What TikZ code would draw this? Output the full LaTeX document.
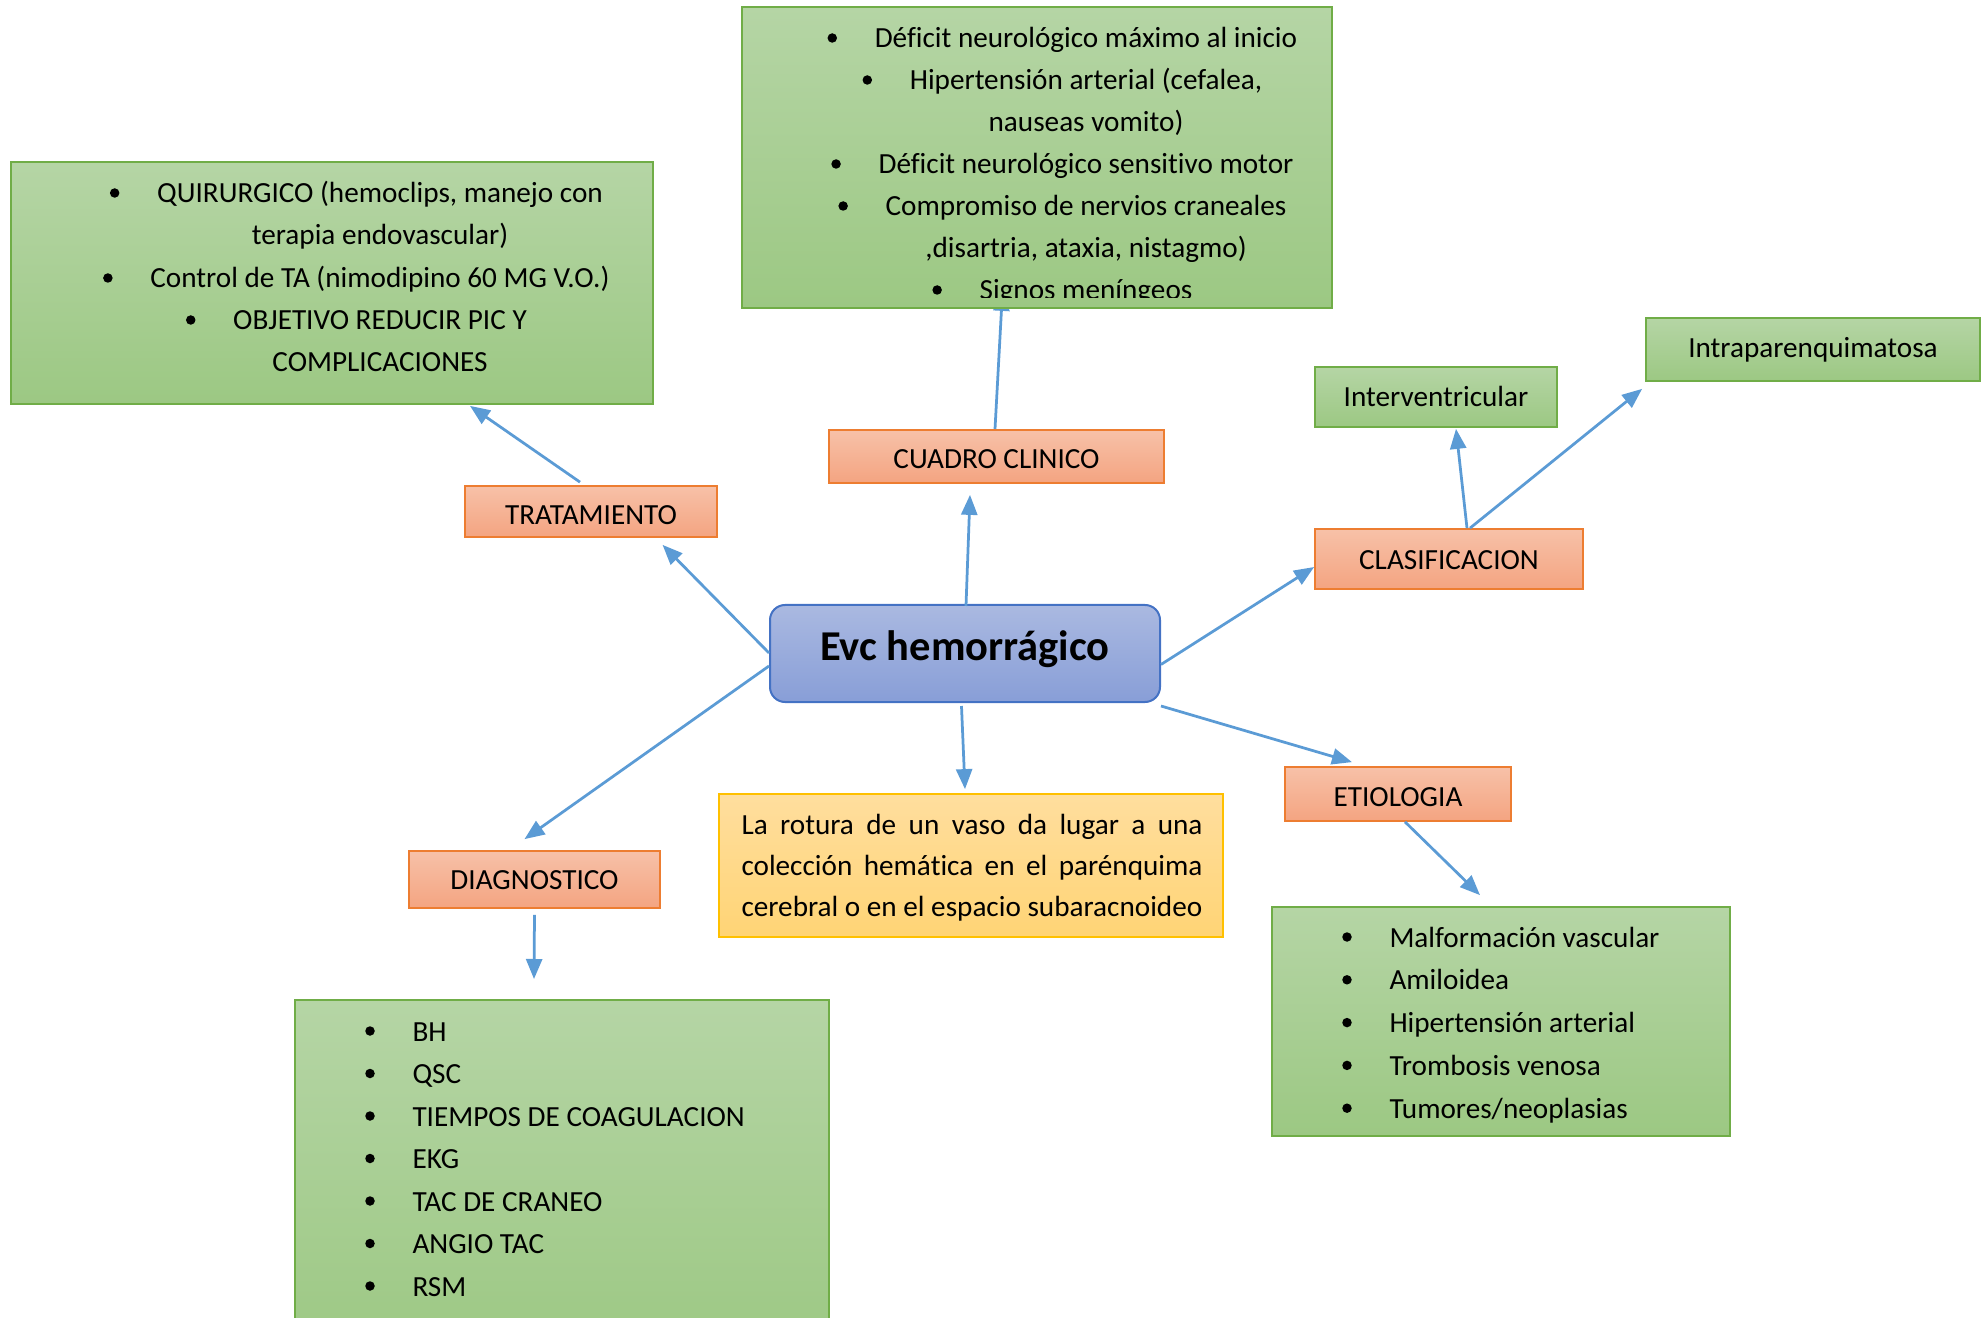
\documentclass[tikz,border=0pt]{standalone}
\usepackage{fontspec}
\setmainfont{Carlito}[Ligatures={NoCommon}]
\usetikzlibrary{calc,arrows.meta}
\pgfdeclarelayer{bg}
\pgfsetlayers{bg,main}
\definecolor{grnT}{HTML}{B5D5A5}
\definecolor{grnB}{HTML}{9CC883}
\definecolor{grnD}{HTML}{70AD47}
\definecolor{orT}{HTML}{F7C1A8}
\definecolor{orB}{HTML}{F4A481}
\definecolor{orD}{HTML}{ED7D31}
\definecolor{blT}{HTML}{AAB9E1}
\definecolor{blB}{HTML}{889ED7}
\definecolor{blD}{HTML}{4472C4}
\definecolor{yeT}{HTML}{FFDE9E}
\definecolor{yeB}{HTML}{FFD475}
\definecolor{yeD}{HTML}{FFC000}
\definecolor{arrC}{HTML}{5B9BD5}
\tikzset{
  basefont/.style={font=\fontsize{11.68pt}{16.8pt}\selectfont},
  grnbox/.style={draw=grnD, line width=0.7pt, top color=grnT, bottom color=grnB, inner sep=0pt, basefont},
  orbox/.style={draw=orD, line width=0.7pt, top color=orT, bottom color=orB, inner sep=0pt, basefont, text height=0.82em, text depth=0pt},
  lbl/.style={draw=grnD, line width=0.7pt, top color=grnT, bottom color=grnB, inner sep=0pt, basefont, text height=0.74em, text depth=0pt},
  line/.style={inner sep=0pt, basefont},
  conn/.style={draw=arrC, line width=1.1pt, -{Triangle[length=8pt,width=6.4pt]}},
  dotb/.style={fill=black},
}
\newcommand{\bul}[1]{\fill[dotb] ($(#1.base west)+(-42,-10)$) circle[radius=1.9pt];}
\begin{document}
\begin{tikzpicture}[x=0.4pt,y=-0.4pt]
\useasboundingbox (0,0) rectangle (1982,1318);
\clip (0,0) rectangle (1982,1318);

% ---------- boxes ----------
\node[grnbox, minimum width=590*0.4pt, minimum height=301*0.4pt] (top) at (1037,157.5) {};
\node[grnbox, minimum width=642*0.4pt, minimum height=242*0.4pt] (tc) at (332,283) {};
\node[grnbox, minimum width=534*0.4pt, minimum height=360*0.4pt, anchor=north] (dc) at (562,999) {};
\node[grnbox, minimum width=458*0.4pt, minimum height=229*0.4pt] (ec) at (1501,1021.5) {};

\node[orbox, text height=1.03em, minimum width=252*0.4pt, minimum height=51*0.4pt] (trat) at (591,511.5) {TRATAMIENTO};
\node[orbox, text height=1.0em, minimum width=335*0.4pt, minimum height=53*0.4pt] (cc) at (996.5,456.5) {CUADRO CLINICO};
\node[orbox, minimum width=268*0.4pt, minimum height=60*0.4pt] (clas) at (1449,559) {CLASIFICACION};
\node[orbox, text height=1.03em, minimum width=226*0.4pt, minimum height=54*0.4pt] (etio) at (1398,794) {ETIOLOGIA};
\node[orbox, minimum width=251*0.4pt, minimum height=57*0.4pt] (diag) at (534.5,879.5) {DIAGNOSTICO};
\node[lbl, minimum width=242*0.4pt, minimum height=60*0.4pt] (iv) at (1436,397) {Interventricular};
\node[lbl, text height=0.68em, minimum width=334*0.4pt, minimum height=63*0.4pt] (ip) at (1813,349.5) {Intraparenquimatosa};

\node[draw=blD, line width=0.8pt, top color=blT, bottom color=blB, rounded corners=6pt, inner sep=0pt,
      minimum width=390*0.4pt, minimum height=97*0.4pt,
      font=\fontsize{17pt}{20pt}\selectfont\bfseries, text height=0.52em, text depth=0pt] (c) at (965,653.5) {Evc hemorrágico};

\node[draw=yeD, line width=0.7pt, top color=yeT, bottom color=yeB, inner sep=0pt,
      minimum width=504*0.4pt, minimum height=143*0.4pt] (yel) at (971,865.5) {};

% ---------- top box text ----------
\begin{scope}
\clip (742,7) rectangle (1332,298);
\node[line, anchor=base] (a1) at (1086,48) {Déficit neurológico máximo al inicio};
\node[line, anchor=base] (a2) at (1086,90) {Hipertensión arterial (cefalea,};
\node[line, anchor=base] (a3) at (1086,132) {nauseas vomito)};
\node[line, anchor=base] (a4) at (1086,174) {Déficit neurológico sensitivo motor};
\node[line, anchor=base] (a5) at (1086,216) {Compromiso de nervios craneales};
\node[line, anchor=base] (a6) at (1086,258) {,disartria, ataxia, nistagmo)};
\node[line, anchor=base] (a7) at (1086,300) {Signos meníngeos};
\bul{a1}\bul{a2}\bul{a4}\bul{a5}\bul{a7}
\end{scope}

% ---------- tratamiento text ----------
\node[line, anchor=base] (b1) at (380,203) {QUIRURGICO (hemoclips, manejo con};
\node[line, anchor=base] (b2) at (380,245) {terapia endovascular)};
\node[line, anchor=base] (b3) at (380,288) {Control de TA (nimodipino 60 MG V.O.)};
\node[line, anchor=base] (b4) at (380,330) {OBJETIVO REDUCIR PIC Y};
\node[line, anchor=base] (b5) at (380,372) {COMPLICACIONES};
\bul{b1}\bul{b3}\bul{b4}

% ---------- diagnostico text ----------
\foreach \t [count=\i from 0] in {BH,QSC,TIEMPOS DE COAGULACION,EKG,TAC DE CRANEO,ANGIO TAC,RSM}{
  \node[line, anchor=base west] (d\i) at (412,1041+42.5*\i) {\t};
  \bul{d\i}
}

% ---------- etiologia text ----------
\foreach \t [count=\i from 0] in {Malformación vascular,Amiloidea,Hipertensión arterial,Trombosis venosa,Tumores/neoplasias}{
  \node[line, anchor=base west] (e\i) at (1389,947+42.8*\i) {\t};
  \bul{e\i}
}

% ---------- yellow text ----------
\node[line, anchor=base west] (y1) at (741,834) {\makebox[184.4pt][s]{La rotura de un vaso da lugar a una}};
\node[line, anchor=base west] (y2) at (741,875) {\makebox[184.4pt][s]{colección hemática en el parénquima}};
\node[line, anchor=base west] (y3) at (741,916) {cerebral o en el espacio subaracnoideo};

% ---------- connectors ----------
\draw[conn] ($(c.west)+(0,-0.5)$) -- ($(trat.south west)!0.782!(trat.south east)+(0,7)$);
\draw[conn] ($(c.north)+(1,2)$) -- ($(cc.south)+(-26.5,11)$);
\draw[conn] ($(c.east)+(0,11)$) -- ($(clas.west)+(0,8)$);
\draw[conn] ($(c.south east)+(0,3)$) -- ($(etio.north)+(-46,-4)$);
\draw[conn] ($(c.south)+(-3.5,3)$) -- ($(yel.north)+(-6,-4)$);
\draw[conn] ($(c.west)+(0,12.5)$) -- ($(diag.north)+(-10,-11)$);
\draw[conn] ($(trat.north)+(-11,-3)$) -- ($(tc.south)+(138,1)$);
\begin{pgfonlayer}{bg}
\draw[conn] ($(cc.north)+(-1.5,0)$) -- ($(top.south)+(-34.5,-18)$);
\end{pgfonlayer}
\draw[conn] ($(clas.north)+(18,0)$) -- ($(iv.south)+(20,1)$);
\draw[conn] ($(clas.north)+(21,0)$) -- ($(ip.south west)+(-3,7)$);
\draw[conn] ($(etio.south)+(7,0)$) -- ($(ec.north)+(-21,-11)$);
\draw[conn] ($(diag.south)+(0,6)$) -- ($(dc.north)+(-28,-20)$);
\end{tikzpicture}
\end{document}
